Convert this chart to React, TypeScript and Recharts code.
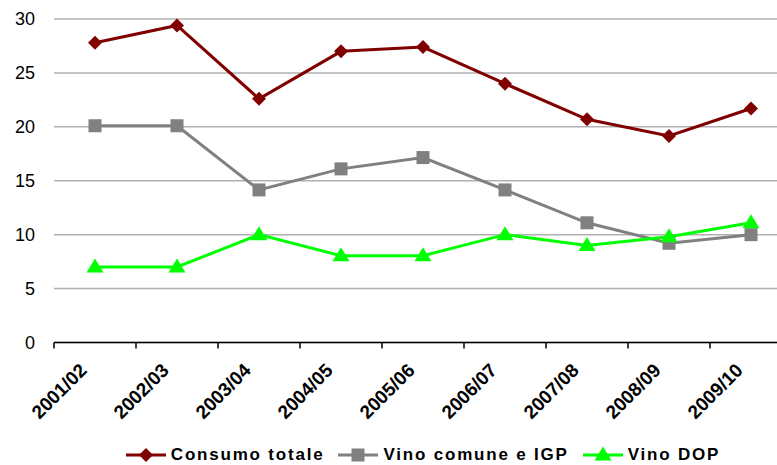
import React from 'react';
import { LineChart, Line, XAxis, YAxis, CartesianGrid, Legend } from 'recharts';

const categories = ['2001/02', '2002/03', '2003/04', '2004/05', '2005/06', '2006/07', '2007/08', '2008/09', '2009/10'];
const consumoTotale = [27.8, 29.4, 22.6, 27.0, 27.4, 24.0, 20.7, 19.15, 21.7];
const vinoComune = [20.1, 20.1, 14.15, 16.1, 17.15, 14.15, 11.1, 9.2, 10.0];
const vinoDop = [7.0, 7.0, 10.0, 8.05, 8.05, 10.0, 9.0, 9.8, 11.1];
const yTicks = [0, 5, 10, 15, 20, 25, 30];
const xBoundaryTicks = [0, 1, 2, 3, 4, 5, 6, 7, 8, 9];

const seriesNames = ['Consumo totale', 'Vino comune e IGP', 'Vino DOP'];
const seriesColors = ['#800000', '#808080', '#00ff00'];

const data = categories.map((c, i) => ({
  x: i + 0.5,
  cat: c,
  totale: consumoTotale[i],
  comune: vinoComune[i],
  dop: vinoDop[i],
}));

const FONT = '"Liberation Sans", Arial, sans-serif';
const CHART_W = 800;
const MARGIN = { top: 19, right: 8, left: 0, bottom: 0 };
const Y_W = 54;
const BAND = (CHART_W - MARGIN.right - MARGIN.left - Y_W) / categories.length;

const Diamond = (props: any) => {
  const { cx, cy, fill } = props;
  if (cx == null || cy == null) return null;
  const r = 7;
  return <polygon points={`${cx},${cy - r} ${cx + r},${cy} ${cx},${cy + r} ${cx - r},${cy}`} fill={fill} />;
};
const Square = (props: any) => {
  const { cx, cy, fill } = props;
  if (cx == null || cy == null) return null;
  const s = 13;
  return <rect x={cx - s / 2} y={cy - s / 2} width={s} height={s} fill={fill} />;
};
const Triangle = (props: any) => {
  const { cx, cy, fill } = props;
  if (cx == null || cy == null) return null;
  return <polygon points={`${cx},${cy - 8.5} ${cx + 8.5},${cy + 5.5} ${cx - 8.5},${cy + 5.5}`} fill={fill} />;
};

const markers = [Diamond, Square, Triangle];

const XTick = (props: any) => {
  const { x, y, payload } = props;
  const i = payload.value;
  if (i >= categories.length) return null;
  const ax = x + BAND / 2 - 7;
  const ay = y + 21;
  return (
    <text
      x={ax}
      y={ay}
      transform={`rotate(-45 ${ax} ${ay})`}
      textAnchor="end"
      fontFamily={FONT}
      fontWeight="bold"
      fontSize={19}
      fill="#000"
    >
      {categories[i]}
    </text>
  );
};

const LegendContent = () => (
  <div
    style={{
      width: 846,
      height: 20,
      display: 'flex',
      justifyContent: 'center',
      alignItems: 'center',
      fontFamily: FONT,
      fontWeight: 'bold',
      fontSize: 17,
      letterSpacing: 1.8,
      color: '#000',
    }}
  >
    {seriesNames.map((n, k) => {
      const M = markers[k];
      return (
        <div key={n} style={{ display: 'flex', alignItems: 'center', marginRight: k < 2 ? 14 : 0 }}>
          <svg width={40} height={18} style={{ marginRight: 5 }}>
            <line x1={0} y1={9} x2={40} y2={9} stroke={seriesColors[k]} strokeWidth={3} />
            <M cx={20} cy={9} fill={seriesColors[k]} />
          </svg>
          <span style={{ lineHeight: '20px' }}>{n}</span>
        </div>
      );
    })}
  </div>
);

export default function App() {
  return (
    <div style={{ position: 'absolute', left: 0, top: 0, width: 777, height: 465, overflow: 'hidden', background: '#fff' }}>
      <LineChart width={CHART_W} height={465} data={data} margin={MARGIN}>
        <CartesianGrid vertical={false} stroke="#b0b0b0" strokeWidth={1.5} />
        <XAxis
          dataKey="x"
          type="number"
          domain={[0, categories.length]}
          ticks={xBoundaryTicks}
          interval={0}
          height={102.5}
          axisLine={{ stroke: '#000', strokeWidth: 1.5 }}
          tickLine={{ stroke: '#000', strokeWidth: 1.5 }}
          tickSize={6}
          tick={<XTick />}
        />
        <YAxis
          width={Y_W}
          domain={[0, 30]}
          ticks={yTicks}
          axisLine={false}
          tickLine={false}
          tickMargin={13}
          tick={{ fontFamily: FONT, fontSize: 18, fill: '#000' }}
        />
        <Legend verticalAlign="bottom" content={<LegendContent />} wrapperStyle={{ left: 0, width: 846, height: 20 }} />
        <Line dataKey="totale" name={seriesNames[0]} stroke={seriesColors[0]} strokeWidth={3} dot={<Diamond fill={seriesColors[0]} />} isAnimationActive={false} />
        <Line dataKey="comune" name={seriesNames[1]} stroke={seriesColors[1]} strokeWidth={3} dot={<Square fill={seriesColors[1]} />} isAnimationActive={false} />
        <Line dataKey="dop" name={seriesNames[2]} stroke={seriesColors[2]} strokeWidth={3} dot={<Triangle fill={seriesColors[2]} />} isAnimationActive={false} />
      </LineChart>
    </div>
  );
}
